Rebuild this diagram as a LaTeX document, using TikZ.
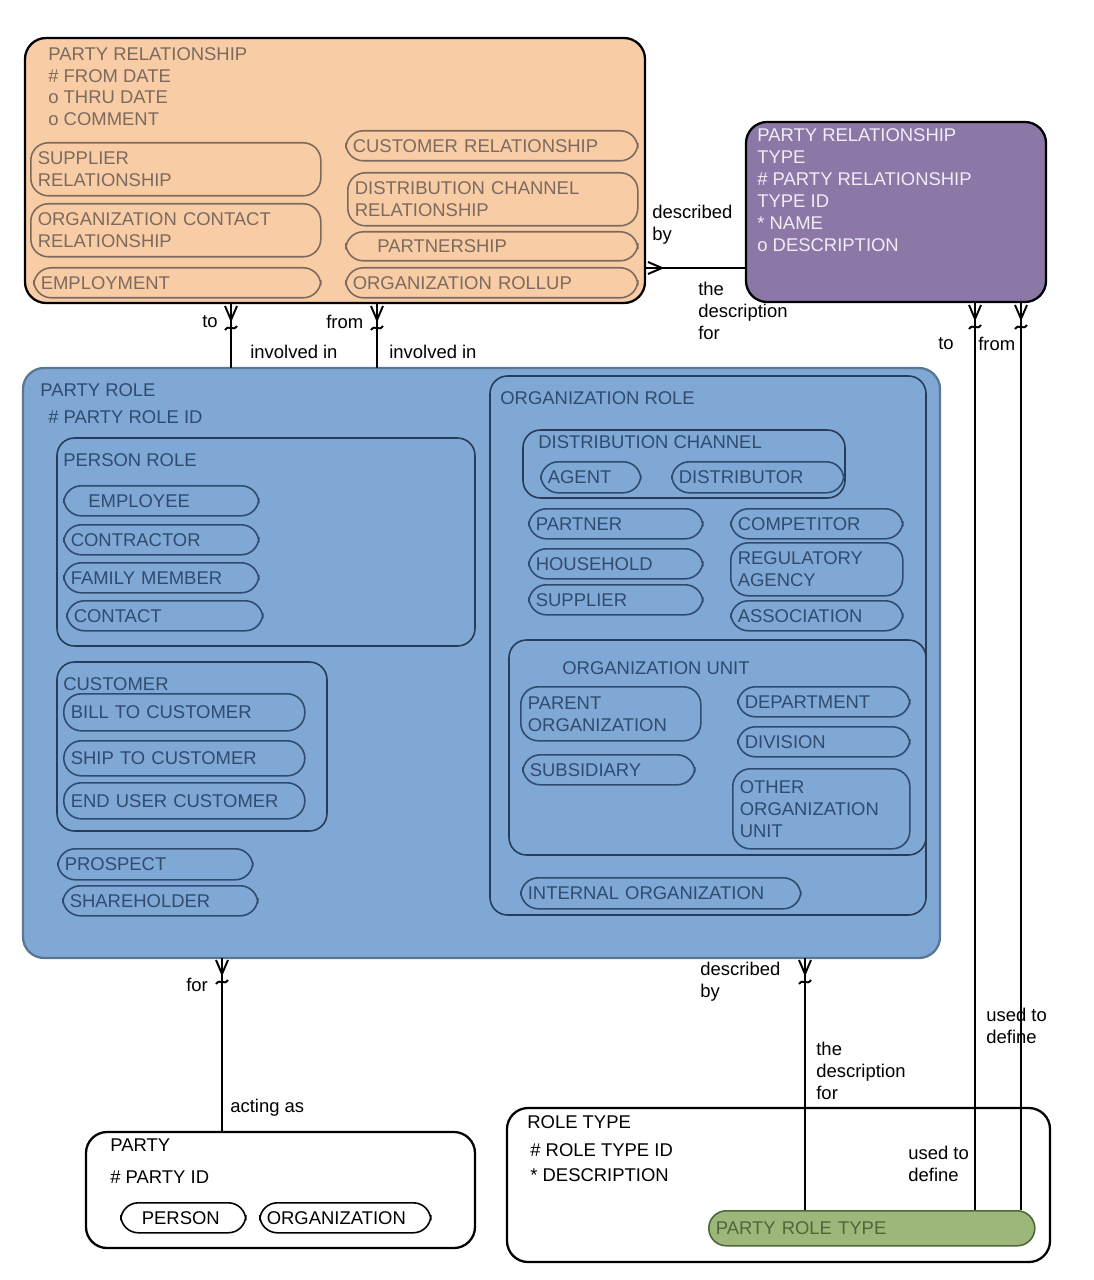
\documentclass[tikz,border=0pt]{standalone}
\usepackage{fontspec}
\setmainfont{Liberation Sans}
\usetikzlibrary{fit}
\definecolor{relfill}{HTML}{F8CDA6}
\definecolor{reltext}{HTML}{7C6A5E}
\definecolor{typefill}{HTML}{8B78A7}
\definecolor{typetext}{HTML}{F2ECF6}
\definecolor{rolefill}{HTML}{80A8D4}
\definecolor{roletext}{HTML}{2F4B70}
\definecolor{greenfill}{HTML}{9DB77A}
\definecolor{greentext}{HTML}{4C6838}
\tikzset{
  ent/.style={draw=black, line width=1.3pt, rounded corners=12pt, inner sep=0pt},
  inner/.style={draw=roletext!80!black, line width=0.9pt, rounded corners=10pt, inner sep=0pt},
  sub/.style={draw=#1, line width=0.9pt, rounded corners=10pt, inner xsep=4pt, inner ysep=0pt,
    align=left, font=\fontsize{10.5}{12.5}\selectfont, text=#1},
  lbl/.style={anchor=west, inner sep=0pt, font=\fontsize{10.5}{12.5}\selectfont},
  rel/.style={lbl, align=left, text=black},
  conn/.style={line width=1.1pt}
}
% box from corner to corner
\newcommand{\ent}[6]{\node[#6, fit={(#2,#3)(#4,#5)}] (#1) {};}
\newcommand{\sbx}[7]{\node[sub=#7, anchor=north west, text width={(#4-#2)*0.02cm-8pt},
  minimum height={(#5-#3)*0.02cm}] (#1) at (#2,#3) {#6};}
% crow's foot, entity above / left
\newcommand{\crowup}[2]{\draw[conn] (#1-6,#2) -- (#1,#2+14) -- (#1+6,#2) (#1,#2) -- (#1,#2+14)
  (#1-6,#2+24) .. controls (#1-2,#2+18) and (#1+2,#2+26) .. (#1+6,#2+20);}
\newcommand{\crowleft}[2]{\draw[conn] (#1,#2-6) -- (#1+14,#2) -- (#1,#2+6) (#1,#2) -- (#1+14,#2);}
\begin{document}
\begin{tikzpicture}[x=0.02cm, y=-0.02cm]
\useasboundingbox (0,0) rectangle (1094,1280);

% party relationship
\ent{prel}{25}{38}{645}{303}{ent, fill=relfill}
\node[lbl, text=reltext, align=left, anchor=north west, font=\fontsize{10.5}{12.4}\selectfont] (prelt) at (48,47)
  {PARTY RELATIONSHIP\\\# FROM DATE\\o THRU DATE\\o COMMENT};
\sbx{supr}{30}{142}{320}{195}{SUPPLIER\\RELATIONSHIP}{reltext}
\sbx{ocon}{30}{203}{320}{256}{ORGANIZATION CONTACT\\RELATIONSHIP}{reltext}
\sbx{empl}{33}{267}{320}{297}{EMPLOYMENT}{reltext}
\sbx{cusr}{345}{130}{637}{160}{CUSTOMER RELATIONSHIP}{reltext}
\sbx{dchr}{347}{172}{637}{225}{DISTRIBUTION CHANNEL\\RELATIONSHIP}{reltext}
\sbx{ptnr}{345}{231}{637}{260}{\hspace*{14pt}PARTNERSHIP}{reltext}
\sbx{orup}{345}{267}{637}{297}{ORGANIZATION ROLLUP}{reltext}

% party relationship type
\ent{prtype}{746}{122}{1046}{302}{ent, fill=typefill}
\node[lbl, text=typetext, align=left, anchor=north west, font=\fontsize{10.5}{12.6}\selectfont] (prtypet) at (757,128)
  {PARTY RELATIONSHIP\\TYPE\\\# PARTY RELATIONSHIP\\TYPE ID\\* NAME\\o DESCRIPTION};

% party role
\ent{prole}{23}{368}{940}{958}{ent, draw=rolefill!70!black, fill=rolefill}
\node[lbl, text=roletext] (prolet) at (40,390) {PARTY ROLE};
\node[lbl, text=roletext] (proleid) at (48,417) {\# PARTY ROLE ID};
\ent{perr}{57}{438}{475}{646}{inner}
\node[lbl, text=roletext] (perrt) at (63,460) {PERSON ROLE};
\sbx{emp}{63}{485}{258}{515}{\hspace*{10pt}EMPLOYEE}{roletext}
\sbx{con}{63}{524}{258}{554}{CONTRACTOR}{roletext}
\sbx{fam}{63}{562}{258}{592}{FAMILY MEMBER}{roletext}
\sbx{cnt}{66}{600}{262}{630}{CONTACT}{roletext}
\ent{cust}{57}{662}{327}{831}{inner}
\node[lbl, text=roletext] (custt) at (63,684) {CUSTOMER};
\sbx{bill}{63}{693}{304}{730}{BILL TO CUSTOMER}{roletext}
\sbx{ship}{63}{740}{304}{775}{SHIP TO CUSTOMER}{roletext}
\sbx{endu}{63}{782}{304}{818}{END USER CUSTOMER}{roletext}
\sbx{pros}{57}{848}{252}{879}{PROSPECT}{roletext}
\sbx{shar}{62}{885}{257}{915}{SHAREHOLDER}{roletext}

\ent{orgr}{490}{376}{926}{915}{inner}
\node[lbl, text=roletext] (orgrt) at (500,398) {ORGANIZATION ROLE};
\ent{dch}{523}{430}{845}{498}{inner}
\node[lbl, text=roletext] (dcht) at (538,442) {DISTRIBUTION CHANNEL};
\sbx{agnt}{540}{461}{640}{492}{AGENT}{roletext}
\sbx{dist}{671}{461}{843}{492}{DISTRIBUTOR}{roletext}
\sbx{prtn}{528}{508}{702}{538}{PARTNER}{roletext}
\sbx{hous}{528}{548}{702}{578}{HOUSEHOLD}{roletext}
\sbx{supl}{528}{584}{702}{614}{SUPPLIER}{roletext}
\sbx{comp}{730}{508}{902}{538}{COMPETITOR}{roletext}
\sbx{regu}{730}{542}{902}{595}{REGULATORY\\AGENCY}{roletext}
\sbx{asso}{730}{600}{902}{630}{ASSOCIATION}{roletext}
\ent{ounit}{509}{640}{926}{855}{inner}
\node[lbl, text=roletext] (ounitt) at (562,668) {ORGANIZATION UNIT};
\sbx{pare}{520}{686}{700}{740}{PARENT\\ORGANIZATION}{roletext}
\sbx{subs}{522}{754}{694}{784}{SUBSIDIARY}{roletext}
\sbx{dept}{737}{686}{909}{716}{DEPARTMENT}{roletext}
\sbx{divi}{737}{726}{909}{756}{DIVISION}{roletext}
\sbx{othr}{732}{768}{909}{848}{OTHER\\ORGANIZATION\\UNIT}{roletext}
\sbx{inor}{520}{877}{800}{908}{INTERNAL ORGANIZATION}{roletext}

% party
\ent{party}{86}{1132}{475}{1248}{ent}
\node[lbl] (partyt) at (110,1145) {PARTY};
\node[lbl] (partyid) at (110,1177) {\# PARTY ID};
\sbx{pers}{120}{1202}{245}{1232}{\hspace*{8pt}PERSON}{black}
\sbx{orgn}{259}{1202}{430}{1232}{ORGANIZATION}{black}

% role type
\ent{rtype}{507}{1108}{1050}{1262}{ent}
\node[lbl] (rtypet) at (527,1122) {ROLE TYPE};
\node[lbl] (rtypeid) at (530,1150) {\# ROLE TYPE ID};
\node[lbl] (rtyped) at (530,1175) {* DESCRIPTION};
\node[sub=greentext, fill=greenfill, anchor=north west, text width={326*0.02cm-8pt},
  minimum height={35*0.02cm}] (prtyp) at (708,1210) {PARTY ROLE TYPE};

% connectors
\coordinate (c1a) at (231,303); \coordinate (c1b) at (231,368);
\coordinate (c2a) at (377,303); \coordinate (c2b) at (377,368);
\coordinate (c3a) at (645,268); \coordinate (c3b) at (746,268);
\coordinate (c4a) at (975,302); \coordinate (c4b) at (975,1210);
\coordinate (c5a) at (1021,302); \coordinate (c5b) at (1021,1210);
\coordinate (c6a) at (222,958); \coordinate (c6b) at (222,1132);
\coordinate (c7a) at (805,958); \coordinate (c7b) at (805,1210);
\foreach \a/\b in {c1a/c1b, c2a/c2b, c3a/c3b, c4a/c4b, c5a/c5b, c6a/c6b, c7a/c7b}
  \draw[conn] (\a) -- (\b);
\crowup{231}{306} \crowup{377}{306} \crowleft{648}{268}
\crowup{975}{305} \crowup{1021}{305} \crowup{222}{960} \crowup{805}{960}

% connector labels
\node[rel] (l1) at (202,322) {to};
\node[rel] (l2) at (250,352) {involved in};
\node[rel] (l3) at (326,322) {from};
\node[rel] (l4) at (389,352) {involved in};
\node[rel, anchor=north west] (l5) at (652,205) {described\\by};
\node[rel, anchor=north west] (l6) at (698,282) {the\\description\\for};
\node[rel] (l7) at (938,344) {to};
\node[rel] (l8) at (978,344) {from};
\node[rel] (l9) at (186,985) {for};
\node[rel] (l10) at (230,1108) {acting as};
\node[rel, anchor=north west] (l11) at (700,962) {described\\by};
\node[rel, anchor=north west] (l12) at (816,1042) {the\\description\\for};
\node[rel, anchor=north west] (l13) at (986,1008) {used to\\define};
\node[rel, anchor=north west] (l14) at (908,1146) {used to\\define};
\end{tikzpicture}
\end{document}
